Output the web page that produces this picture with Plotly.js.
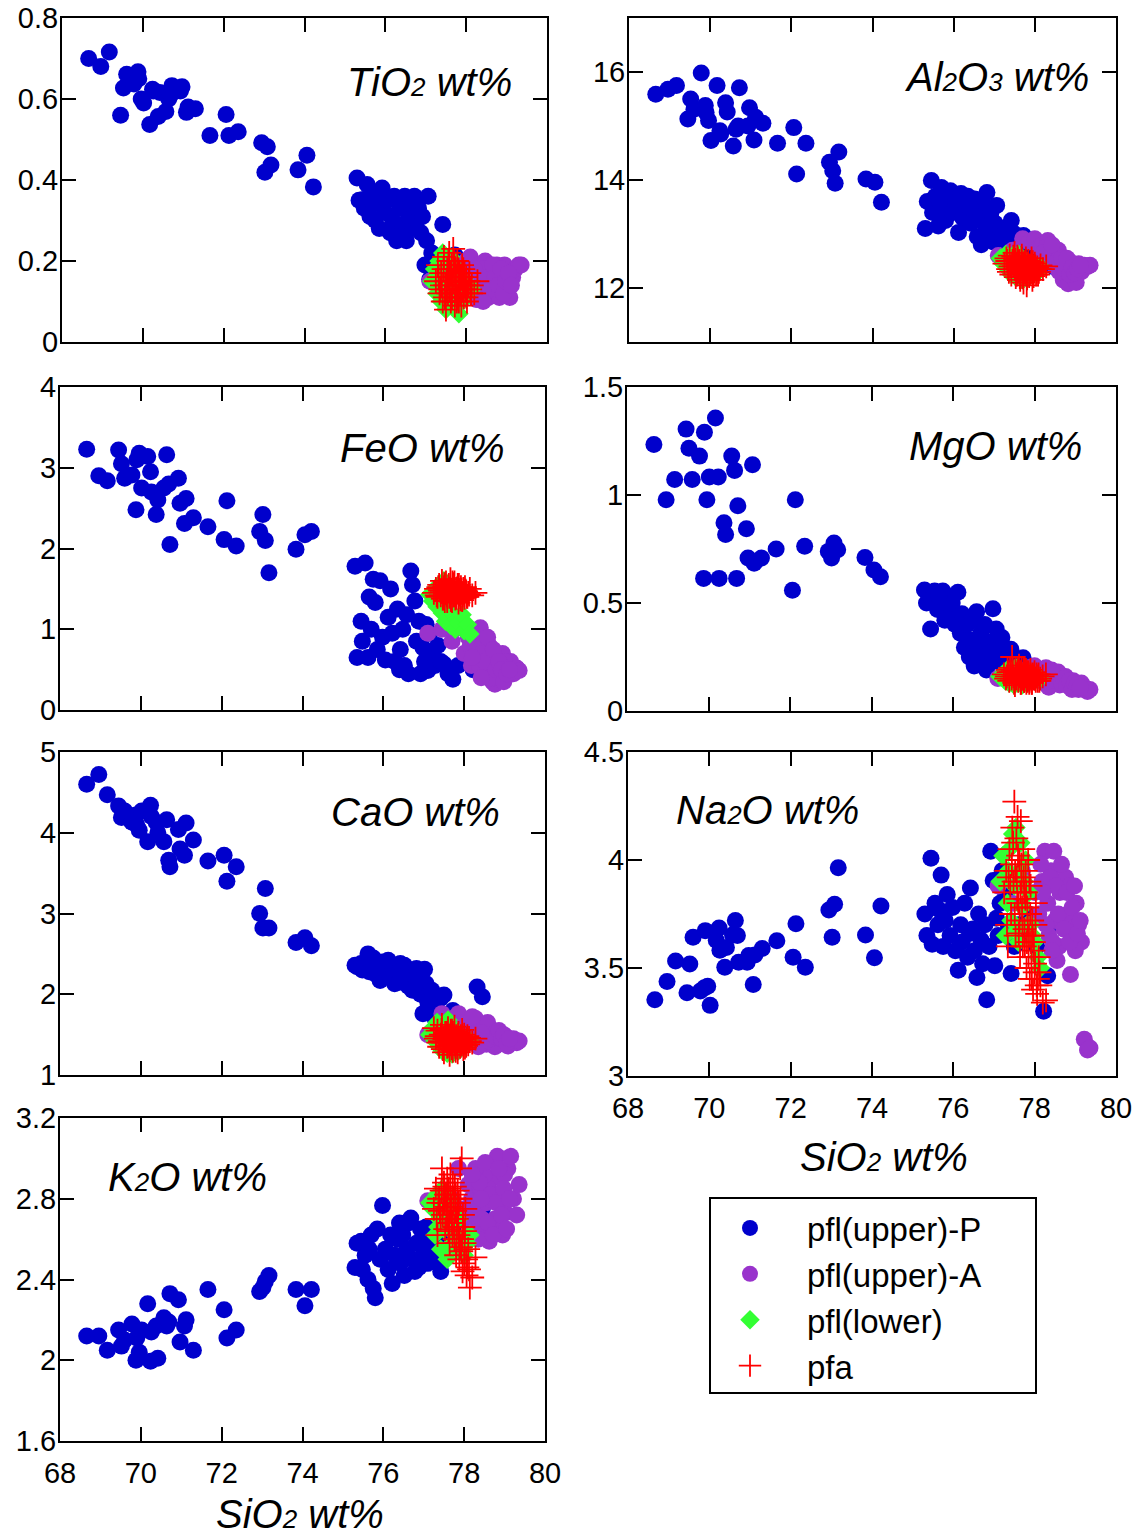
<!DOCTYPE html>
<html>
<head>
<meta charset="utf-8">
<script src="https://cdn.plot.ly/plotly-3.0.1.min.js"></script>
<style>html,body{margin:0;padding:0;background:#fff;}#chart{width:1139px;height:1535px;}</style>
</head>
<body>
<div id="chart"></div>
<script>
// ---------- DATA (wt%) ----------
// pfl(upper)-P
const sio2P = [68.66,68.96,69.17,69.45,69.52,69.60,69.78,69.88,69.90,69.96,70.02,70.17,70.24,70.26,70.38,70.42,70.57,70.64,70.69,70.72,70.93,70.97,71.08,71.12,71.30,71.66,72.06,72.13,72.36,72.94,73.02,73.08,73.17,73.84,74.06,74.22,
75.30,75.35,75.45,75.48,75.55,75.62,75.70,75.75,75.80,75.85,75.92,75.98,76.05,76.12,76.18,76.22,76.28,76.35,76.42,76.48,76.52,76.58,76.62,76.68,76.72,76.78,76.82,76.88,76.92,76.98,77.02,77.06,77.10,77.15,77.20,77.28,77.35,77.42,77.50,77.60,77.72,77.85,78.05,78.22,78.32,78.45,75.65,76.40];
const tio2P = [0.70,0.68,0.716,0.56,0.627,0.661,0.637,0.667,0.65,0.60,0.59,0.537,0.624,0.62,0.557,0.616,0.569,0.60,0.61,0.633,0.62,0.63,0.567,0.58,0.576,0.51,0.562,0.51,0.519,0.492,0.419,0.482,0.437,0.425,0.461,0.383,
0.405,0.35,0.352,0.33,0.389,0.31,0.34,0.30,0.36,0.28,0.38,0.32,0.35,0.27,0.30,0.36,0.25,0.33,0.29,0.36,0.25,0.31,0.34,0.28,0.36,0.30,0.33,0.27,0.31,0.19,0.25,0.36,0.155,0.22,0.17,0.20,0.21,0.29,0.20,0.18,0.215,0.20,0.15,0.14,0.16,0.13,0.355,0.26];
const al2o3P = [15.59,15.68,15.75,15.13,15.50,15.31,15.98,15.38,15.25,15.10,14.73,15.75,14.91,14.85,15.43,15.26,14.63,14.94,15.00,15.71,15.00,15.34,14.74,15.16,15.05,14.68,14.97,14.11,14.68,14.33,14.17,13.94,14.52,14.02,13.96,13.59,
13.10,13.60,13.99,13.40,13.70,13.15,13.86,13.50,13.25,13.70,13.80,13.40,13.60,13.03,13.75,13.30,13.55,13.70,13.20,13.45,13.65,12.95,13.35,12.80,13.55,13.15,13.77,13.00,13.40,12.85,13.20,13.53,12.90,13.10,12.95,13.05,12.80,13.25,13.00,12.85,12.97,12.60,12.50,12.60,12.55,12.40,13.60,13.50];
const feoP = [3.23,2.90,2.84,3.22,3.05,2.87,2.91,2.48,3.10,3.18,2.75,3.14,2.95,2.70,2.42,2.60,2.75,3.16,2.80,2.05,2.87,2.56,2.31,2.62,2.38,2.27,2.11,2.59,2.03,2.21,2.42,2.10,1.70,1.99,2.17,2.21,
1.78,0.65,1.10,0.85,1.82,0.65,1.00,1.62,1.33,0.75,1.60,0.90,0.62,1.15,1.50,0.95,0.60,1.25,0.75,1.00,0.55,1.18,0.45,1.72,1.55,1.35,0.85,1.10,0.45,0.77,0.60,1.06,0.49,0.95,0.70,0.55,0.80,0.60,0.57,0.45,0.38,0.55,0.60,0.50,0.55,0.45,1.40,0.50];
const mgoP = [1.234,0.978,1.072,1.305,1.216,1.072,1.18,0.614,1.29,0.978,1.083,1.356,1.083,0.614,0.872,0.817,1.18,1.114,0.614,0.95,0.844,0.708,1.14,0.684,0.708,0.75,0.559,0.978,0.763,0.739,0.708,0.778,0.747,0.711,0.653,0.622,
0.56,0.50,0.38,0.52,0.555,0.47,0.50,0.555,0.42,0.48,0.44,0.50,0.40,0.55,0.36,0.45,0.294,0.40,0.33,0.42,0.208,0.46,0.30,0.36,0.25,0.40,0.19,0.32,0.27,0.473,0.23,0.38,0.30,0.25,0.34,0.22,0.27,0.286,0.20,0.24,0.247,0.20,0.18,0.17,0.16,0.15,0.53,0.25];
const caoP = [4.60,4.72,4.47,4.33,4.19,4.27,4.13,4.22,4.10,4.03,4.27,3.89,4.34,4.20,4.13,4.00,3.89,4.16,3.66,3.58,4.04,3.80,3.72,4.12,3.91,3.65,3.72,3.40,3.58,3.00,2.82,3.31,2.82,2.64,2.70,2.60,
2.36,2.34,2.38,2.30,2.40,2.50,2.33,2.45,2.25,2.38,2.17,2.40,2.30,2.42,2.20,2.35,2.13,2.28,2.38,2.20,2.36,2.25,2.10,2.30,2.05,2.22,2.32,2.15,2.00,1.76,2.31,2.13,1.90,1.84,2.05,1.70,1.80,1.95,1.99,1.75,1.80,1.65,1.55,1.50,2.09,1.97,2.28,2.15];
const na2oP = [3.353,3.437,3.532,3.385,3.519,3.642,3.393,3.408,3.673,3.416,3.327,3.629,3.685,3.582,3.503,3.595,3.653,3.72,3.65,3.527,3.527,3.558,3.424,3.56,3.59,3.626,3.55,3.705,3.503,3.768,3.642,3.795,3.964,3.653,3.547,3.787,
3.75,3.65,4.008,3.61,3.80,3.70,3.93,3.60,3.72,3.84,3.65,3.78,3.58,3.49,3.70,3.62,3.80,3.55,3.87,3.68,3.58,3.456,3.75,3.63,3.52,3.70,3.353,3.60,4.04,3.905,3.51,3.73,3.65,3.80,3.95,3.85,3.70,3.475,3.60,3.70,3.65,3.75,3.60,3.30,3.464,3.70,3.77,3.66];
const k2oP = [2.12,2.12,2.05,2.15,2.07,2.10,2.18,2.00,2.11,2.04,2.15,2.28,1.995,2.14,2.17,2.01,2.21,2.17,2.19,2.33,2.30,2.09,2.17,2.20,2.05,2.35,2.25,2.11,2.15,2.34,2.36,2.39,2.42,2.35,2.27,2.35,
2.46,2.58,2.59,2.45,2.52,2.40,2.62,2.355,2.31,2.65,2.50,2.766,2.55,2.45,2.62,2.38,2.52,2.60,2.48,2.62,2.42,2.55,2.68,2.705,2.50,2.44,2.58,2.46,2.65,2.52,2.60,2.66,2.48,2.55,2.62,2.50,2.58,2.44,2.55,2.60,2.65,2.70,2.60,2.62,2.68,2.75,2.55,2.68];

// pfl(upper)-A
const sio2A = [77.10,77.45,77.70,77.86,78.00,78.10,78.18,78.25,78.32,78.40,78.47,78.55,78.62,78.70,78.76,78.82,78.88,78.95,79.02,79.08,79.15,79.22,79.30,79.36,78.35,78.60,78.85,79.00,78.15,78.50,
78.28,78.38,78.44,78.52,78.58,78.66,78.72,78.79,78.86,78.92,78.98,79.05,79.12,78.20,78.42];
const tio2A = [0.15,0.15,0.12,0.18,0.20,0.21,0.13,0.105,0.19,0.15,0.20,0.11,0.17,0.13,0.19,0.11,0.16,0.19,0.13,0.11,0.16,0.18,0.19,0.19,0.13,0.19,0.14,0.17,0.16,0.14,
0.16,0.12,0.18,0.16,0.13,0.19,0.16,0.14,0.18,0.12,0.15,0.17,0.14,0.18,0.10];
const al2o3A = [12.60,12.70,12.91,12.85,12.91,12.75,12.80,12.60,12.88,12.70,12.55,12.60,12.45,12.15,12.40,12.08,12.35,12.20,12.10,12.45,12.30,12.42,12.40,12.42,12.50,12.30,12.50,12.40,12.50,12.40,
12.75,12.65,12.78,12.50,12.70,12.55,12.35,12.55,12.25,12.38,12.28,12.35,12.42,12.65,12.80];
const feoA = [0.95,1.00,0.85,1.02,0.70,0.90,0.55,0.75,0.95,1.02,0.45,0.65,0.80,0.35,0.32,0.60,0.45,0.70,0.40,0.55,0.60,0.45,0.52,0.49,0.60,0.50,0.38,0.60,0.80,0.85,
0.85,0.55,0.70,0.60,0.90,0.40,0.75,0.50,0.60,0.50,0.35,0.45,0.50,0.65,0.40];
const mgoA = [0.15,0.17,0.18,0.20,0.21,0.19,0.15,0.13,0.18,0.16,0.14,0.17,0.12,0.15,0.16,0.13,0.11,0.14,0.12,0.10,0.13,0.11,0.09,0.10,0.11,0.15,0.12,0.11,0.17,0.13,
0.20,0.14,0.18,0.15,0.18,0.13,0.15,0.12,0.14,0.10,0.13,0.12,0.11,0.16,0.19];
const caoA = [1.50,1.76,1.70,1.76,1.65,1.58,1.40,1.62,1.55,1.45,1.58,1.38,1.50,1.55,1.35,1.45,1.52,1.40,1.48,1.36,1.42,1.45,1.40,1.42,1.35,1.42,1.38,1.43,1.55,1.48,
1.70,1.48,1.62,1.52,1.65,1.45,1.50,1.47,1.55,1.45,1.50,1.40,1.45,1.72,1.52];
const na2oA = [3.88,3.80,3.95,3.70,3.85,3.75,3.90,4.04,3.80,3.95,4.04,3.535,3.85,3.70,3.92,3.75,3.47,3.65,3.80,3.70,3.62,3.17,3.12,3.13,3.65,3.60,3.88,3.58,3.98,3.72,
3.70,3.92,3.62,3.88,3.75,3.98,3.68,3.85,3.62,3.78,3.88,3.66,3.72,3.85,3.58];
const k2oA = [2.79,2.70,2.80,2.95,2.75,2.87,2.80,2.70,2.74,2.85,2.65,2.78,2.59,2.90,2.70,3.01,2.82,2.62,2.73,2.95,3.01,2.80,2.72,2.87,2.60,2.85,2.68,2.92,2.66,2.92,
2.95,2.88,2.70,2.98,2.68,2.82,2.62,2.78,2.95,2.72,2.85,2.65,2.80,2.92,2.80];

// pfl(lower)
const sio2L = [77.15,77.22,77.28,77.33,77.38,77.42,77.46,77.50,77.54,77.58,77.62,77.66,77.70,77.74,77.78,77.82,77.86,77.90,77.95,78.00,78.08,78.14,77.35,77.60];
const tio2L = [0.15,0.18,0.12,0.20,0.10,0.22,0.14,0.08,0.19,0.11,0.21,0.16,0.09,0.13,0.18,0.07,0.12,0.10,0.15,0.12,0.14,0.13,0.16,0.14];
const al2o3L = [12.55,12.45,12.62,12.35,12.50,12.25,12.60,12.40,12.20,12.55,12.30,12.45,12.15,12.38,12.50,12.18,12.30,12.40,12.25,12.35,12.30,12.40,12.45,12.62];
const feoL = [1.43,1.35,1.50,1.28,1.55,1.45,1.20,1.60,1.10,1.50,1.15,1.05,1.40,1.18,1.00,1.12,1.08,1.45,1.18,0.98,1.06,0.94,1.40,1.25];
const mgoL = [0.16,0.17,0.14,0.19,0.13,0.18,0.15,0.12,0.20,0.16,0.14,0.18,0.12,0.17,0.15,0.13,0.18,0.15,0.16,0.14,0.16,0.15,0.17,0.13];
const caoL = [1.50,1.58,1.42,1.65,1.35,1.55,1.30,1.62,1.45,1.27,1.52,1.40,1.26,1.58,1.35,1.48,1.30,1.42,1.38,1.45,1.40,1.42,1.48,1.68];
const na2oL = [3.90,4.02,3.65,3.80,4.05,3.72,4.12,3.88,4.15,3.68,3.95,4.08,3.78,3.90,4.00,3.70,3.85,3.70,3.65,3.62,3.55,3.50,3.95,3.62];
const k2oL = [2.78,2.75,2.62,2.82,2.70,2.55,2.85,2.65,2.75,2.50,2.80,2.68,2.58,2.72,2.62,2.55,2.70,2.60,2.55,2.52,2.58,2.62,2.66,2.78];

// pfa
const sio2F = [77.25,77.30,77.34,77.38,77.42,77.45,77.48,77.50,77.53,77.55,77.58,77.60,77.62,77.64,77.66,77.68,77.70,77.72,77.74,77.76,77.78,77.80,77.82,77.84,77.86,77.88,77.90,77.92,77.94,77.96,77.98,78.00,78.03,78.06,78.10,78.14,78.20,78.28,77.52,77.63,77.71,77.79,77.87,77.95,78.02,78.08,77.40,77.57,
77.32,77.36,77.44,77.47,77.51,77.56,77.59,77.61,77.65,77.67,77.69,77.73,77.75,77.77,77.81,77.83,77.85,77.89,77.91,77.93,77.97,78.01,78.05,78.12];
const tio2F = [0.15,0.19,0.12,0.17,0.10,0.21,0.14,0.08,0.18,0.12,0.22,0.16,0.10,0.19,0.13,0.23,0.15,0.09,0.18,0.12,0.20,0.14,0.10,0.17,0.13,0.09,0.19,0.15,0.11,0.17,0.13,0.16,0.12,0.15,0.13,0.14,0.12,0.15,0.13,0.17,0.20,0.11,0.16,0.14,0.10,0.17,0.14,0.16,
0.16,0.13,0.18,0.11,0.15,0.20,0.13,0.17,0.11,0.15,0.19,0.13,0.16,0.10,0.18,0.15,0.12,0.16,0.13,0.18,0.15,0.11,0.14,0.12];
const al2o3F = [12.45,12.55,12.35,12.60,12.25,12.50,12.40,12.65,12.20,12.45,12.55,12.30,12.50,12.15,12.40,12.60,12.35,12.10,12.48,12.28,12.55,12.05,12.38,12.50,12.22,12.42,12.30,12.55,12.15,12.40,12.32,12.45,12.25,12.38,12.30,12.42,12.35,12.40,12.52,12.20,12.45,12.35,12.28,12.48,12.35,12.25,12.40,12.58,
12.50,12.30,12.45,12.58,12.35,12.25,12.48,12.40,12.32,12.55,12.20,12.42,12.30,12.50,12.18,12.45,12.38,12.28,12.48,12.35,12.22,12.40,12.30,12.35];
const feoF = [1.45,1.50,1.40,1.55,1.42,1.60,1.38,1.52,1.45,1.58,1.35,1.48,1.55,1.40,1.62,1.45,1.35,1.52,1.42,1.58,1.38,1.50,1.45,1.55,1.33,1.48,1.40,1.52,1.45,1.38,1.50,1.42,1.48,1.40,1.45,1.50,1.42,1.45,1.35,1.50,1.58,1.44,1.55,1.36,1.52,1.40,1.48,1.42,
1.42,1.52,1.46,1.38,1.56,1.44,1.40,1.53,1.46,1.36,1.49,1.56,1.42,1.47,1.39,1.51,1.46,1.43,1.37,1.49,1.44,1.39,1.47,1.43];
const mgoF = [0.17,0.15,0.19,0.14,0.18,0.25,0.16,0.13,0.20,0.15,0.18,0.14,0.21,0.16,0.13,0.19,0.15,0.17,0.14,0.20,0.16,0.13,0.18,0.15,0.17,0.14,0.19,0.16,0.13,0.17,0.15,0.18,0.14,0.16,0.17,0.15,0.16,0.17,0.12,0.18,0.15,0.19,0.13,0.16,0.15,0.14,0.20,0.17,
0.16,0.18,0.15,0.19,0.14,0.17,0.20,0.15,0.18,0.13,0.16,0.19,0.14,0.17,0.16,0.14,0.18,0.15,0.17,0.13,0.16,0.15,0.17,0.14];
const caoF = [1.58,1.45,1.55,1.35,1.50,1.62,1.40,1.28,1.52,1.45,1.35,1.58,1.42,1.25,1.50,1.38,1.55,1.30,1.45,1.60,1.35,1.48,1.40,1.28,1.52,1.42,1.35,1.48,1.38,1.45,1.32,1.50,1.40,1.45,1.38,1.42,1.40,1.45,1.46,1.36,1.52,1.30,1.44,1.56,1.34,1.48,1.42,1.50,
1.48,1.40,1.56,1.32,1.44,1.52,1.36,1.48,1.40,1.55,1.33,1.46,1.52,1.38,1.45,1.34,1.50,1.42,1.36,1.47,1.40,1.44,1.36,1.46];
const na2oF = [3.85,3.95,3.60,4.05,3.75,4.15,3.90,4.27,3.65,4.10,4.20,3.80,4.00,3.55,4.18,3.90,3.70,4.05,3.85,3.60,3.95,3.50,3.78,4.00,3.65,3.45,3.88,3.55,3.72,3.40,3.62,3.48,3.80,3.38,3.55,3.42,3.34,3.35,3.95,3.72,3.60,3.85,3.90,3.65,3.70,3.45,3.88,3.82,
3.70,3.92,3.98,4.08,3.75,3.92,4.02,3.66,3.85,3.98,3.78,3.92,3.68,3.82,3.62,3.70,3.55,3.75,3.62,3.45,3.58,3.52,3.42,3.48];
const k2oF = [2.75,2.85,2.62,2.80,2.70,2.95,2.78,2.88,2.65,2.82,2.90,2.72,2.85,2.58,2.92,2.76,2.68,2.88,2.80,2.60,2.74,2.52,2.70,2.84,2.62,2.50,2.95,2.56,3.00,2.44,2.66,2.48,2.75,2.42,2.55,2.36,2.41,2.51,2.78,2.68,2.62,2.82,2.78,2.60,2.64,2.46,2.74,2.70,
2.70,2.78,2.84,2.72,2.86,2.76,2.82,2.64,2.74,2.80,2.70,2.78,2.66,2.86,2.58,2.72,2.66,2.60,2.80,2.54,2.72,2.58,2.50,2.45];

const seriesNames = ['pfl(upper)-P','pfl(upper)-A','pfl(lower)','pfa'];
const xTicks = [68,70,72,74,76,78,80];

// ---------- LAYOUT CONFIG ----------
const W = 1139, H = 1535;
const FONT = 'Liberation Sans, Arial, Helvetica, sans-serif';
const sub = s => '<span style="font-size:26px">' + s + '</span>';
const panels = [
  {label:'<i>TiO'+sub('2')+' wt%</i>', vals:[tio2P,tio2A,tio2L,tio2F], range:[0,0.8], dtick:0.2, box:[62,18,547,342], lab:{x:514,y:82,anchor:'right'}},
  {label:'<i>Al'+sub('2')+'O'+sub('3')+' wt%</i>', vals:[al2o3P,al2o3A,al2o3L,al2o3F], range:[11,17], dtick:2, box:[629,18,1116,342], lab:{x:1091,y:77,anchor:'right'}},
  {label:'<i>FeO wt%</i>', vals:[feoP,feoA,feoL,feoF], range:[0,4], dtick:1, box:[60,387,545,710], lab:{x:506,y:448,anchor:'right'}},
  {label:'<i>MgO wt%</i>', vals:[mgoP,mgoA,mgoL,mgoF], range:[0,1.5], dtick:0.5, box:[627,387,1116,711], lab:{x:1084,y:446,anchor:'right'}},
  {label:'<i>CaO wt%</i>', vals:[caoP,caoA,caoL,caoF], range:[1,5], dtick:1, box:[60,752,545,1075], lab:{x:502,y:812,anchor:'right'}},
  {label:'<i>Na'+sub('2')+'O wt%</i>', vals:[na2oP,na2oA,na2oL,na2oF], range:[3,4.5], dtick:0.5, box:[628,752,1116,1076], lab:{x:674,y:810,anchor:'left'}, xlabels:true, title:{x:884,y:1157}},
  {label:'<i>K'+sub('2')+'O wt%</i>', vals:[k2oP,k2oA,k2oL,k2oF], range:[1.6,3.2], dtick:0.4, box:[60,1118,545,1441], lab:{x:106,y:1177,anchor:'left'}, xlabels:true, title:{x:300,y:1514}}
];
const xs = [sio2P, sio2A, sio2L, sio2F];
const markers = [
  {color:'#0000CC', size:17, symbol:'circle', line:{width:0}},
  {color:'#9933CC', size:17, symbol:'circle', line:{width:0}},
  {color:'#33FF33', size:15, symbol:'diamond', line:{width:0}},
  {color:'#FF0000', size:17, symbol:'cross-thin', line:{color:'#FF0000', width:1.8}}
];

const traces = [];
const layout = {
  width: W, height: H,
  margin: {l:0, r:0, t:0, b:0},
  paper_bgcolor: '#fff', plot_bgcolor: '#fff',
  font: {family: FONT, color: '#000'},
  showlegend: true,
  legend: {
    x: 693/W, y: 1 - 1200/H, xanchor: 'left', yanchor: 'top',
    bgcolor: 'rgba(0,0,0,0)', borderwidth: 0,
    font: {size: 33, family: FONT, color: '#000'},
    itemwidth: 104, tracegroupgap: 0, traceorder: 'normal'
  },
  // legend frame
  shapes: [{type:'rect', xref:'paper', yref:'paper', x0:710/W, x1:1036/W, y0:1-1393/H, y1:1-1198/H,
            line:{color:'#000', width:2}, fillcolor:'rgba(0,0,0,0)', layer:'above'}],
  annotations: []
};

panels.forEach((p, i) => {
  const n = i + 1;
  const sfx = n === 1 ? '' : String(n);
  const [l, t, r, b] = p.box;
  const axCommon = {
    ticks: 'inside', ticklen: 14, tickwidth: 2, tickcolor: '#000',
    showline: true, linewidth: 2, linecolor: '#000', mirror: 'ticks',
    showgrid: false, zeroline: false,
    tickfont: {size: 29, family: FONT, color: '#000'}
  };
  layout['xaxis' + sfx] = Object.assign({}, axCommon, {
    domain: [l / W, r / W], range: [68, 80], tickvals: xTicks,
    anchor: 'y' + sfx, showticklabels: !!p.xlabels, ticklabelstandoff: 5
  });
  layout['yaxis' + sfx] = Object.assign({}, axCommon, {
    domain: [1 - b / H, 1 - t / H], range: p.range, dtick: p.dtick, tick0: 0,
    anchor: 'x' + sfx, ticklabelstandoff: -4
  });
  p.vals.forEach((yv, s) => {
    traces.push({
      type: 'scatter', mode: 'markers', name: seriesNames[s],
      x: xs[s], y: yv,
      xaxis: 'x' + sfx, yaxis: 'y' + sfx,
      marker: markers[s], showlegend: i === 0, legendgroup: seriesNames[s],
      cliponaxis: true, hoverinfo: 'x+y'
    });
  });
  layout.annotations.push({
    xref: 'paper', yref: 'paper', x: p.lab.x / W, y: 1 - p.lab.y / H,
    xanchor: p.lab.anchor, yanchor: 'middle', showarrow: false,
    text: p.label, font: {size: 40, family: FONT, color: '#000'}
  });
  if (p.title) {
    layout.annotations.push({
      xref: 'paper', yref: 'paper', x: p.title.x / W, y: 1 - p.title.y / H,
      xanchor: 'center', yanchor: 'middle', showarrow: false,
      text: '<i>SiO' + sub('2') + ' wt%</i>', font: {size: 40, family: FONT, color: '#000'}
    });
  }
});

Plotly.newPlot('chart', traces, layout, {displayModeBar: false, staticPlot: true});
</script>
</body>
</html>
